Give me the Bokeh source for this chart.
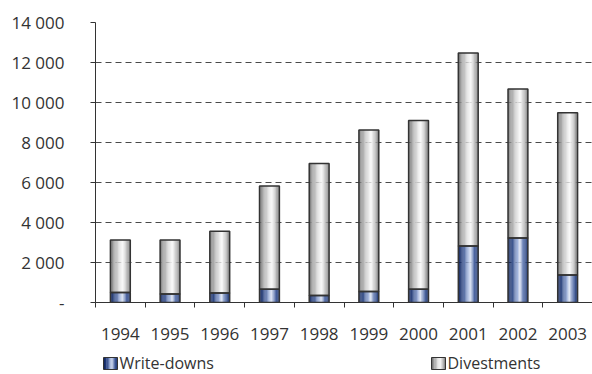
import numpy as np
from bokeh.plotting import figure
from bokeh.layouts import column
from bokeh.models import ColumnDataSource, FixedTicker, Range1d
from bokeh.core.properties import value
from bokeh.embed import file_html
from bokeh.resources import INLINE

# Values in millions, read per year
years = ["1994", "1995", "1996", "1997", "1998", "1999", "2000", "2001", "2002", "2003"]
write_downs = [500, 430, 480, 660, 350, 550, 660, 2830, 3220, 1380]
totals = [3130, 3120, 3560, 5820, 6950, 8620, 9100, 12480, 10680, 9490]
divestments = [t - w for t, w in zip(totals, write_downs)]
y_ticks = [0, 2000, 4000, 6000, 8000, 10000, 12000, 14000]
y_labels = ["-", "2 000", "4 000", "6 000", "8 000", "10 000", "12 000", "14 000"]
series_names = ["Write-downs", "Divestments"]

FONT = "Open Sans"
TEXT = "#333333"
EDGE = "#333333"
LEFT = 95   # left border shared by chart and legend strip

n = len(years)
centers = np.arange(n) + 0.5
bar_w = 0.4

# Horizontal shading profiles (position across bar -> colour)
gray_stops = [(0.0, (100, 100, 100)), (0.15, (150, 150, 150)), (0.45, (222, 222, 222)),
              (0.62, (250, 250, 250)), (0.8, (195, 195, 195)), (1.0, (112, 112, 112))]
blue_stops = [(0.0, (16, 36, 90)), (0.2, (32, 58, 122)), (0.48, (150, 170, 215)),
              (0.6, (220, 228, 244)), (0.8, (64, 92, 158)), (1.0, (18, 42, 100))]


def shade(stops, t):
    for (t0, c0), (t1, c1) in zip(stops[:-1], stops[1:]):
        if t0 <= t <= t1:
            f = (t - t0) / (t1 - t0)
            c = [round(a + (b - a) * f) for a, b in zip(c0, c1)]
            return "#%02x%02x%02x" % tuple(c)
    return "#%02x%02x%02x" % stops[-1][1]


n_strips = 24
strip_w = bar_w / n_strips


def strips(bottoms, tops, stops):
    xs, bs, ts, cs = [], [], [], []
    for k in range(n_strips):
        t = (k + 0.5) / n_strips
        off = -bar_w / 2 + t * bar_w
        col = shade(stops, t)
        for i in range(n):
            xs.append(centers[i] + off)
            bs.append(bottoms[i])
            ts.append(tops[i])
            cs.append(col)
    return ColumnDataSource(dict(x=xs, bottom=bs, top=ts, color=cs))


p = figure(width=592, height=344, output_backend="svg", toolbar_location=None,
           x_range=Range1d(0, n), y_range=Range1d(0, 14000),
           min_border_left=LEFT, min_border_right=0, min_border_top=22, min_border_bottom=42)
p.outline_line_color = None
p.background_fill_color = "white"
p.border_fill_color = "white"

# Grid
p.xgrid.grid_line_color = None
p.ygrid.ticker = FixedTicker(ticks=y_ticks)
p.ygrid.grid_line_color = "#4a4a4a"
p.ygrid.grid_line_dash = "6 4"
p.ygrid.grid_line_width = 1

# Shaded stacked bars
wd_src = strips([0] * n, write_downs, blue_stops)
dv_src = strips(write_downs, totals, gray_stops)
p.vbar(x="x", bottom="bottom", top="top", width=strip_w * 1.08, source=wd_src,
       fill_color="color", line_color=None)
p.vbar(x="x", bottom="bottom", top="top", width=strip_w * 1.08, source=dv_src,
       fill_color="color", line_color=None)

# Outlines of each stacked segment
outline = ColumnDataSource(dict(x=list(centers) * 2,
                                bottom=[0] * n + write_downs,
                                top=write_downs + totals))
p.vbar(x="x", bottom="bottom", top="top", width=bar_w, source=outline,
       fill_color=None, line_color=EDGE, line_width=1.5)

# Y axis
ya = p.yaxis[0]
ya.ticker = FixedTicker(ticks=y_ticks)
ya.major_label_overrides = {v: s for v, s in zip(y_ticks, y_labels)}
ya.axis_line_color = EDGE
ya.major_tick_line_color = EDGE
ya.major_tick_out = 5
ya.major_tick_in = 0
ya.minor_tick_line_color = None
ya.major_label_standoff = 26
ya.major_label_text_font = FONT
ya.major_label_text_font_size = "17px"
ya.major_label_text_color = TEXT

# X axis: labels at bar centres, ticks at category boundaries
xa = p.xaxis[0]
xa.ticker = FixedTicker(ticks=list(centers), minor_ticks=list(range(n + 1)))
xa.major_label_overrides = {float(c): y for c, y in zip(centers, years)}
xa.axis_line_color = EDGE
xa.major_tick_line_color = None
xa.major_tick_out = 0
xa.major_tick_in = 0
xa.minor_tick_line_color = EDGE
xa.minor_tick_out = 5
xa.minor_tick_in = 0
xa.major_label_standoff = 20
xa.major_label_text_font = FONT
xa.major_label_text_font_size = "17px"
xa.major_label_text_color = TEXT

# Legend strip underneath the chart (pixel-like coordinates, page x)
LEG_H = 30
lf = figure(width=592, height=LEG_H, output_backend="svg", toolbar_location=None,
            x_range=Range1d(LEFT, 592), y_range=Range1d(0, LEG_H),
            x_axis_type=None, y_axis_type=None,
            min_border_left=LEFT, min_border_right=0, min_border_top=0, min_border_bottom=0)
lf.outline_line_color = None
lf.xgrid.grid_line_color = None
lf.ygrid.grid_line_color = None

swatch_left = [103, 431]
swatch_w, swatch_bottom, swatch_h = 14, 5, 12
sw_l, sw_r, sw_c = [], [], []
for left, stops in zip(swatch_left, [blue_stops, gray_stops]):
    m = 10
    for k in range(m):
        t = (k + 0.5) / m
        sw_l.append(left + k * swatch_w / m)
        sw_r.append(left + (k + 1) * swatch_w / m + 0.3)
        sw_c.append(shade(stops, t))
lf.quad(left=sw_l, right=sw_r, bottom=swatch_bottom, top=swatch_bottom + swatch_h,
        fill_color=sw_c, line_color=None)
lf.quad(left=swatch_left, right=[x + swatch_w for x in swatch_left],
        bottom=swatch_bottom, top=swatch_bottom + swatch_h,
        fill_color=None, line_color=EDGE, line_width=1)
lf.text(x=[x + swatch_w + 2 for x in swatch_left], y=[12] * 2,
        text=series_names, text_font=value(FONT), text_font_size=value("16px"),
        text_color=TEXT, text_baseline="middle", text_align="left")

open("out.html", "w").write(file_html(column(p, lf, spacing=0), INLINE))
